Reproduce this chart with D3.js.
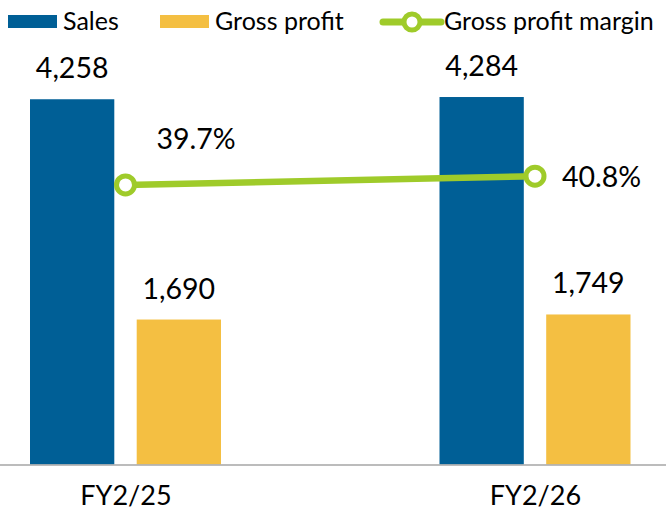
<!DOCTYPE html>
<html>
<head>
<meta charset="utf-8">
<script src="https://cdn.jsdelivr.net/npm/d3@7"></script>
<style>
  body { margin: 0; background: #fff; }
  text { font-family: Lato, "Open Sans", sans-serif; fill: #000; }
</style>
</head>
<body>
<div class="canvas"></div>
<script>
const categories = ['FY2/25', 'FY2/26'];
const seriesNames = ['Sales', 'Gross profit'];
const sales = [4258, 4284];
const grossProfit = [1690, 1749];
const margin = [39.7, 40.8];

const dims = { width: 666, height: 509 };
const plot = { top: 35.6, bottom: 464.5 };
const valueFont = 28.5;
const axisFont = 27;
const legendFont = 25;

const colors = { 'Sales': '#005F96', 'Gross profit': '#F4BF42', line: '#9FCB2A' };

const svg = d3
  .select('.canvas')
  .append('svg')
  .attr('width', dims.width)
  .attr('height', dims.height);

// SCALES
const x = d3.scalePoint().domain(categories).range([125.5, 535]);
const xInner = d3
  .scaleBand()
  .domain(seriesNames)
  .range([-95.5, 95.5])
  .paddingInner(0.21);
const y = d3.scaleLinear().domain([0, 5000]).range([plot.bottom, plot.top]);
const y2 = d3.scaleLinear().domain([4.5, 58.5]).range([plot.bottom, plot.top]);

const rows = categories.map((c, i) => ({
  cat: c,
  values: [
    { name: 'Sales', value: sales[i] },
    { name: 'Gross profit', value: grossProfit[i] }
  ],
  margin: margin[i]
}));

// BARS
const groups = svg
  .selectAll('g.group')
  .data(rows)
  .enter()
  .append('g')
  .attr('class', 'group')
  .attr('transform', (d) => `translate(${x(d.cat)}, 0)`);

groups
  .selectAll('rect')
  .data((d) => d.values)
  .enter()
  .append('rect')
  .attr('x', (d) => xInner(d.name))
  .attr('y', (d) => y(d.value))
  .attr('width', xInner.bandwidth())
  .attr('height', (d) => y(0) - y(d.value))
  .attr('fill', (d) => colors[d.name]);

groups
  .selectAll('text.val')
  .data((d) => d.values)
  .enter()
  .append('text')
  .attr('class', 'val')
  .attr('x', (d) => xInner(d.name) + xInner.bandwidth() / 2)
  .attr('y', (d) => y(d.value) - 21)
  .attr('text-anchor', 'middle')
  .style('font-size', valueFont + 'px')
  .text((d) => d3.format(',')(d.value));

// AXIS LINE
svg
  .append('line')
  .attr('x1', 0)
  .attr('x2', dims.width)
  .attr('y1', y(0) + 0.5)
  .attr('y2', y(0) + 0.5)
  .attr('stroke', '#A6A6A6')
  .attr('stroke-width', 1.5);

const xAxis = d3.axisBottom(x).tickSize(0).tickPadding(0);
svg
  .append('g')
  .attr('transform', `translate(0, ${y(0)})`)
  .call(xAxis)
  .call((g) => g.select('.domain').remove())
  .selectAll('text')
  .attr('dy', null)
  .attr('y', 40)
  .style('font-size', axisFont + 'px')
  .style('font-family', 'Lato, "Open Sans", sans-serif')
  .attr('fill', '#000');

// MARGIN LINE
const line = d3
  .line()
  .x((d) => x(d.cat))
  .y((d) => y2(d.margin));

svg
  .append('path')
  .datum(rows)
  .attr('d', line)
  .attr('fill', 'none')
  .attr('stroke', colors.line)
  .attr('stroke-width', 6.5);

svg
  .selectAll('circle.pt')
  .data(rows)
  .enter()
  .append('circle')
  .attr('class', 'pt')
  .attr('cx', (d) => x(d.cat))
  .attr('cy', (d) => y2(d.margin))
  .attr('r', 9)
  .attr('fill', '#fff')
  .attr('stroke', colors.line)
  .attr('stroke-width', 5);

// first label sits above-right, second to the right
const labelOffsets = [{ dx: 31, dy: -36 }, { dx: 27, dy: 11 }];
svg
  .selectAll('text.pct')
  .data(rows)
  .enter()
  .append('text')
  .attr('class', 'pct')
  .attr('x', (d, i) => x(d.cat) + labelOffsets[i].dx)
  .attr('y', (d, i) => y2(d.margin) + labelOffsets[i].dy)
  .style('font-size', valueFont + 'px')
  .text((d) => d.margin.toFixed(1) + '%');

// LEGEND
const legend = svg.append('g').attr('class', 'legend');
const legendItems = [
  { name: 'Sales', x: 8, type: 'rect' },
  { name: 'Gross profit', x: 160, type: 'rect' },
  { name: 'Gross profit margin', x: 383, type: 'line' }
];

legendItems.forEach((item) => {
  if (item.type === 'rect') {
    legend
      .append('rect')
      .attr('x', item.x)
      .attr('y', 15)
      .attr('width', 49)
      .attr('height', 13)
      .attr('fill', colors[item.name]);
    legend
      .append('text')
      .attr('x', item.x + 55)
      .attr('y', 30)
      .style('font-size', legendFont + 'px')
      .text(item.name);
  } else {
    legend
      .append('line')
      .attr('x1', item.x)
      .attr('x2', item.x + 58)
      .attr('y1', 22)
      .attr('y2', 22)
      .attr('stroke', colors.line)
      .attr('stroke-width', 7)
      .attr('stroke-linecap', 'round');
    legend
      .append('circle')
      .attr('cx', item.x + 29)
      .attr('cy', 22)
      .attr('r', 8)
      .attr('fill', '#fff')
      .attr('stroke', colors.line)
      .attr('stroke-width', 5);
    legend
      .append('text')
      .attr('x', item.x + 61)
      .attr('y', 30)
      .style('font-size', legendFont + 'px')
      .text(item.name);
  }
});
</script>
</body>
</html>
